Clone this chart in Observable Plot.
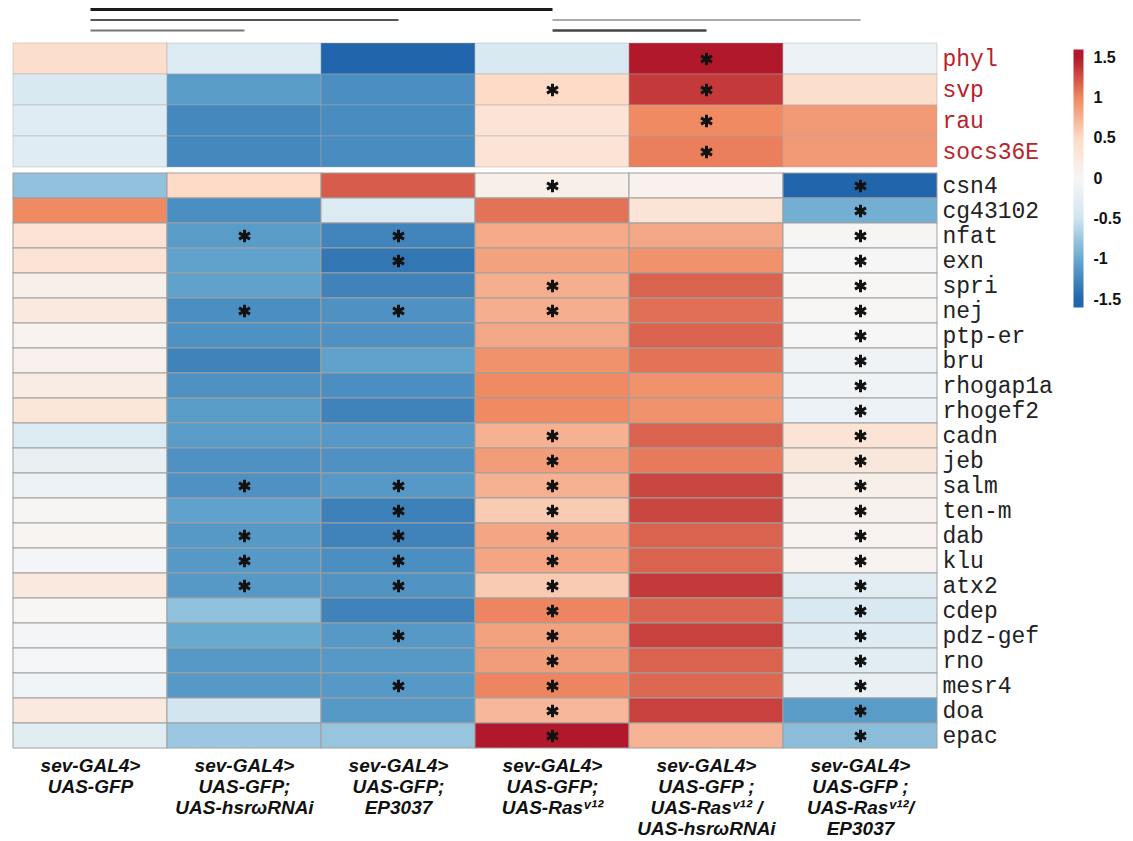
<!DOCTYPE html>
<html><head><meta charset="utf-8">
<script src="https://cdn.jsdelivr.net/npm/d3@7"></script>
<script src="https://cdn.jsdelivr.net/npm/@observablehq/plot@0.6"></script>
<style>
body{margin:0;background:#fff;}
#wrap{position:relative;width:1133px;height:841px;background:#fff;}
#wrap svg{display:block;}
#legend{position:absolute;left:1055px;top:0;}
</style></head><body><div id="wrap"><div id="main"></div><div id="legend"></div></div>
<script>
// ---- data ----
const columns = [
  "sev-GAL4>\nUAS-GFP",
  "sev-GAL4>\nUAS-GFP;\nUAS-hsrωRNAi",
  "sev-GAL4>\nUAS-GFP;\nEP3037",
  "sev-GAL4>\nUAS-GFP;\nUAS-Rasᵛ¹²",
  "sev-GAL4>\nUAS-GFP ;\nUAS-Rasᵛ¹² /\nUAS-hsrωRNAi",
  "sev-GAL4>\nUAS-GFP ;\nUAS-Rasᵛ¹²/\nEP3037"
];
const topGenes = ["phyl","svp","rau","socs36E"];
const otherGenes = ["csn4","cg43102","nfat","exn","spri","nej","ptp-er","bru","rhogap1a","rhogef2",
  "cadn","jeb","salm","ten-m","dab","klu","atx2","cdep","pdz-gef","rno","mesr4","doa","epac"];
const genes = topGenes.concat(otherGenes);

// log2 fold values, one array per genotype (gene order as above)
const gfp        = [0.45,-0.4,-0.3,-0.3,-0.8,1.0,0.35,0.35,0.15,0.25,0.08,0.1,0.2,0.3,-0.35,-0.2,-0.15,0.04,0.05,-0.05,0.25,0.02,-0.05,-0.03,-0.08,0.25,-0.28];
const hsrRNAi    = [-0.35,-1.1,-1.25,-1.25,0.5,-1.2,-1.1,-1.05,-1.05,-1.2,-1.18,-1.28,-1.18,-1.1,-1.1,-1.18,-1.18,-1.05,-1.12,-1.12,-1.12,-0.8,-1.0,-1.12,-1.12,-0.48,-0.75];
const ep3037     = [-1.5,-1.2,-1.22,-1.22,1.2,-0.35,-1.27,-1.38,-1.28,-1.18,-1.18,-1.05,-1.2,-1.28,-1.12,-1.18,-1.12,-1.3,-1.28,-1.2,-1.16,-1.28,-1.12,-1.12,-1.12,-1.12,-0.77];
const ras        = [-0.4,0.5,0.35,0.35,0.15,1.1,0.8,0.85,0.78,0.78,0.82,0.95,1.0,1.0,0.76,0.88,0.76,0.6,0.83,0.83,0.6,1.02,0.85,0.88,1.02,0.72,1.5];
const rasHsrRNAi = [1.5,1.35,1.0,1.05,0.1,0.35,0.82,0.95,1.17,1.12,1.17,1.1,0.95,0.95,1.17,1.07,1.3,1.3,1.17,1.17,1.35,1.17,1.32,1.17,1.15,1.32,0.75];
const rasEP3037  = [-0.15,0.45,0.9,0.9,-1.5,-0.95,0.03,0.01,0.02,0.02,0.01,-0.1,-0.1,-0.15,0.35,0.28,0.15,0.1,0.07,0.07,-0.28,-0.4,-0.33,-0.28,-0.18,-1.1,-0.83];
const valueSets = [gfp, hsrRNAi, ep3037, ras, rasHsrRNAi, rasEP3037];

// genes marked significant (*) per genotype
const starsGfp        = [];
const starsHsrRNAi    = ["nfat","nej","salm","dab","klu","atx2"];
const starsEP3037     = ["nfat","exn","nej","salm","ten-m","dab","klu","atx2","pdz-gef","mesr4"];
const starsRas        = ["svp","csn4","spri","nej","cadn","jeb","salm","ten-m","dab","klu","atx2","cdep","pdz-gef","rno","mesr4","doa","epac"];
const starsRasHsrRNAi = ["phyl","svp","rau","socs36E"];
const starsRasEP3037  = otherGenes.slice();
const starSets = [starsGfp, starsHsrRNAi, starsEP3037, starsRas, starsRasHsrRNAi, starsRasEP3037];

// comparison brackets above the heatmap (column indices, tier)
const bracketFrom = [0, 0, 0, 3, 3];
const bracketTo   = [3, 2, 1, 5, 4];
const bracketTier = [1, 2, 3, 2, 3];

const legendTicks = [-1.5, -1, -0.5, 0, 0.5, 1, 1.5];

// ---- build table ----
const table = [];
columns.forEach((c, ci) => genes.forEach((g, gi) => table.push({col: c, gene: g, value: valueSets[ci][gi], sig: starSets[ci].includes(g)})));
const topData = table.filter(d => topGenes.includes(d.gene));
const otherData = table.filter(d => otherGenes.includes(d.gene));
const brackets = bracketFrom.map((f, i) => ({from: columns[f], to: columns[bracketTo[i]], tier: bracketTier[i]}));

// ---- styles ----
const W = 1133, ML = 11, MR = 195;
const color = {type: "linear", domain: [-1.5,-1,-0.5,0,0.5,1,1.5],
  range: ["#2166AC","#67A9CF","#D1E5F0","#F7F7F7","#FDDBC7","#EF8A62","#B2182B"], interpolate: "rgb", clamp: true};
const mono = "'Courier New', 'Liberation Mono', monospace";
const sans = "Arial, 'Liberation Sans', Helvetica, sans-serif";
const bracketStroke = ["#1c1c1c", "#555", "#777", "#8c8c8c", "#444"];
const bracketWidth = [3, 2.2, 2, 1.6, 2.4];
const geneFont = 23;

const main = document.getElementById("main");

// brackets
main.append(Plot.plot({
  width: W, height: 41, marginTop: 9, marginBottom: 11, marginLeft: ML, marginRight: MR,
  x: {type: "point", domain: columns, padding: 0.5, axis: null},
  y: {domain: [1, 3], reverse: true, axis: null},
  style: {background: "white"},
  marks: brackets.map((b, i) => Plot.link([b], {x1: "from", x2: "to", y1: "tier", y2: "tier",
    stroke: bracketStroke[i], strokeWidth: bracketWidth[i]}))
}));

// top block (red genes)
main.append(Plot.plot({
  width: W, height: 127, marginTop: 0, marginBottom: 0, marginLeft: ML, marginRight: MR,
  x: {domain: columns, padding: 0, axis: null},
  y: {domain: topGenes, padding: 0, axis: null},
  color,
  style: {background: "white"},
  marks: [
    Plot.cell(topData, {x: "col", y: "gene", fill: "value", stroke: "#a8a8a8", strokeOpacity: 0.45, inset: 0}),
    Plot.dot(topData.filter(d => d.sig), {x: "col", y: "gene", symbol: "asterisk", r: 6, stroke: "#111", strokeWidth: 3}),
    Plot.axisY({anchor: "right", tickSize: 0, tickPadding: 4, fontSize: geneFont, fontFamily: mono, color: "#b8232a", label: null})
  ]
}));

// remaining genes
main.append(Plot.plot({
  width: W, height: 673, marginTop: 0, marginBottom: 89, marginLeft: ML, marginRight: MR,
  x: {domain: columns, padding: 0},
  y: {domain: otherGenes, padding: 0},
  color,
  style: {background: "white"},
  marks: [
    Plot.cell(otherData, {x: "col", y: "gene", fill: "value", stroke: "#a0a0a0", strokeWidth: 1, inset: 0}),
    Plot.dot(otherData.filter(d => d.sig), {x: "col", y: "gene", symbol: "asterisk", r: 6, stroke: "#111", strokeWidth: 3}),
    Plot.axisY({anchor: "right", tickSize: 0, tickPadding: 4, fontSize: geneFont, fontFamily: mono, color: "#222", label: null}),
    Plot.axisX({anchor: "bottom", tickSize: 0, tickPadding: 5, fontSize: 19, fontFamily: sans,
      fontWeight: "bold", fontStyle: "italic", lineHeight: 1.1, color: "#111", label: null})
  ]
}));

// color legend
document.getElementById("legend").append(Plot.plot({
  width: 78, height: 320, marginTop: 49, marginBottom: 13, marginLeft: 18, marginRight: 50,
  x: {domain: [0, 1], axis: null},
  y: {domain: [-1.6, 1.6], axis: null},
  color,
  style: {background: "transparent"},
  marks: [
    Plot.raster({x1: 0, x2: 1, y1: -1.6, y2: 1.6, width: 1, height: 256, fill: (x, y) => y}),
    Plot.axisY(legendTicks, {anchor: "right", tickSize: 0, tickPadding: 10, fontSize: 16, fontWeight: "bold",
      fontFamily: sans, color: "#111", tickFormat: d => String(d), label: null})
  ]
}));
</script></body></html>
